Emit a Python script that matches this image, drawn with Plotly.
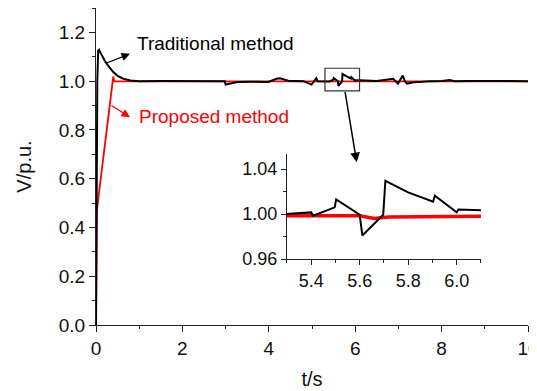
import plotly.graph_objects as go

# Traditional method (black)
t_trad = [0, 0.01, 0.03, 0.05, 0.07, 0.1, 0.15, 0.2, 0.25, 0.3, 0.4, 0.5, 0.63, 0.8, 1.0,
          1.5, 2.0, 2.5, 2.98, 3.0, 3.1, 3.3, 3.6, 3.99, 4.18, 4.26, 4.45, 4.8, 4.99, 5.1, 5.13,
          5.29, 5.4, 5.408, 5.497, 5.503, 5.6, 5.611, 5.697, 5.706, 5.8, 5.903, 5.91, 6.0, 6.007,
          6.1, 6.5, 6.88, 6.99, 7.1, 7.15, 7.2, 7.35, 7.73, 8.0, 8.19, 8.3, 8.6, 9.0, 9.5, 10]
v_trad = [0, 0.45, 1.0, 1.125, 1.129, 1.118, 1.1, 1.085, 1.071, 1.06, 1.037, 1.022, 1.01, 1.003, 1.0,
          1.001, 1.0, 1.001, 1.0, 0.986, 0.99, 0.997, 0.998, 0.997, 1.01, 1.012, 1.002, 1.0, 0.986, 1.012, 1.0,
          1.0, 1.0015, 0.9985, 1.006, 1.013, 0.9994, 0.981, 0.9994, 1.0296, 1.0193, 1.011, 1.0163, 1.0015, 1.004,
          1.004, 1.001, 1.01, 0.99, 1.023, 1.0, 0.99, 0.995, 1.0, 1.001, 1.005, 1.0, 1.001, 1.0, 1.001, 1.0]

# Proposed method (red)
t_prop = [0, 0.005, 0.01, 0.02, 0.4, 0.42, 1.0, 3.0, 5.3, 5.55, 5.6, 5.66, 5.72, 6.1, 7.0, 8.5, 10]
v_prop = [0, 0.2, 0.36, 0.47, 1.02, 0.999, 0.999, 0.999, 0.9985, 0.999, 0.9985, 0.996, 0.9975, 0.998, 0.998, 0.999, 0.999]

main_xticks = [0, 2, 4, 6, 8, 10]
main_yticks = [0.0, 0.2, 0.4, 0.6, 0.8, 1.0, 1.2]
inset_xticks = [5.4, 5.6, 5.8, 6.0]
inset_yticks = [0.96, 1.00, 1.04]

FONT = "Arial, Liberation Sans, sans-serif"
AX = "#222222"

fig = go.Figure()
fig.add_trace(go.Scatter(x=t_prop, y=v_prop, mode="lines", line=dict(color="#ff0000", width=1.8),
                         xaxis="x", yaxis="y", showlegend=False))
fig.add_trace(go.Scatter(x=t_trad, y=v_trad, mode="lines", line=dict(color="#000000", width=2),
                         xaxis="x", yaxis="y", showlegend=False))
fig.add_trace(go.Scatter(x=t_prop, y=v_prop, mode="lines", line=dict(color="#ff0000", width=3.5),
                         xaxis="x2", yaxis="y2", showlegend=False))
fig.add_trace(go.Scatter(x=t_trad, y=v_trad, mode="lines", line=dict(color="#000000", width=2),
                         xaxis="x2", yaxis="y2", showlegend=False))

axis_common = dict(showline=True, linecolor=AX, linewidth=1.3, ticks="outside", tickcolor=AX,
                   tickwidth=1.3, showgrid=False, zeroline=False, mirror=False, automargin=False,
                   tickfont=dict(family=FONT, size=19, color="#111111"))

# page body has an 8px offset; figure sized/margined to compensate
fig.update_layout(
    width=537, height=383,
    margin=dict(l=88, r=17, t=0, b=66),
    paper_bgcolor="white", plot_bgcolor="white",
    font=dict(family=FONT, color="#111111"),
    xaxis=dict(axis_common, range=[0, 10], tickvals=main_xticks, ticklen=6, ticklabeloverflow="allow",
               minor=dict(dtick=1, ticklen=3, ticks="outside", tickcolor=AX),
               title=dict(text="t/s", font=dict(family=FONT, size=20), standoff=14),
               domain=[0, 1], anchor="y"),
    yaxis=dict(axis_common, range=[0, 1.3], tickvals=main_yticks, tickformat=".1f", ticklen=6,
               minor=dict(dtick=0.1, ticklen=3, ticks="outside", tickcolor=AX),
               title=dict(text="V/p.u.", font=dict(family=FONT, size=20), standoff=21),
               domain=[0, 1], anchor="x"),
    xaxis2=dict(axis_common, range=[5.3, 6.1], tickvals=inset_xticks, tickformat=".1f", ticklen=5,
                tickfont=dict(family=FONT, size=18, color="#111111"),
                minor=dict(dtick=0.1, ticklen=3, ticks="outside", tickcolor=AX),
                domain=[0.442, 0.891], anchor="y2"),
    yaxis2=dict(axis_common, range=[0.96, 1.0533], tickvals=inset_yticks, tickformat=".2f", ticklen=5,
                tickfont=dict(family=FONT, size=18, color="#111111"),
                minor=dict(dtick=0.02, ticklen=3, ticks="outside", tickcolor=AX),
                domain=[0.208, 0.539], anchor="x2"),
)

# zoom box on main plot
fig.add_shape(type="rect", xref="x", yref="y", x0=5.3, x1=6.1, y0=0.96, y1=1.053,
              line=dict(color="#333333", width=1.2))

# text labels
fig.add_annotation(x=0.90, y=1.155, xref="x", yref="y", text="Traditional method", showarrow=False,
                   xanchor="left", yanchor="middle", font=dict(family=FONT, size=19, color="#000000"))
fig.add_annotation(x=0.95, y=0.855, xref="x", yref="y", text="Proposed method", showarrow=False,
                   xanchor="left", yanchor="middle", font=dict(family=FONT, size=19, color="#ff0000"))

# arrows
fig.add_annotation(x=0.787, y=1.1125, ax=0.21, ay=1.072, xref="x", yref="y", axref="x", ayref="y",
                   text="", showarrow=True, arrowhead=2, arrowsize=1.3, arrowwidth=1.3, arrowcolor="#000000")
fig.add_annotation(x=0.787, y=0.852, ax=0.324, ay=0.904, xref="x", yref="y", axref="x", ayref="y",
                   text="", showarrow=True, arrowhead=2, arrowsize=1.3, arrowwidth=1.3, arrowcolor="#ff0000")
fig.add_annotation(x=6.035, y=0.667, ax=5.76, ay=0.962, xref="x", yref="y", axref="x", ayref="y",
                   text="", showarrow=True, arrowhead=2, arrowsize=1.3, arrowwidth=1.5, arrowcolor="#000000")

fig.write_html("out.html")
